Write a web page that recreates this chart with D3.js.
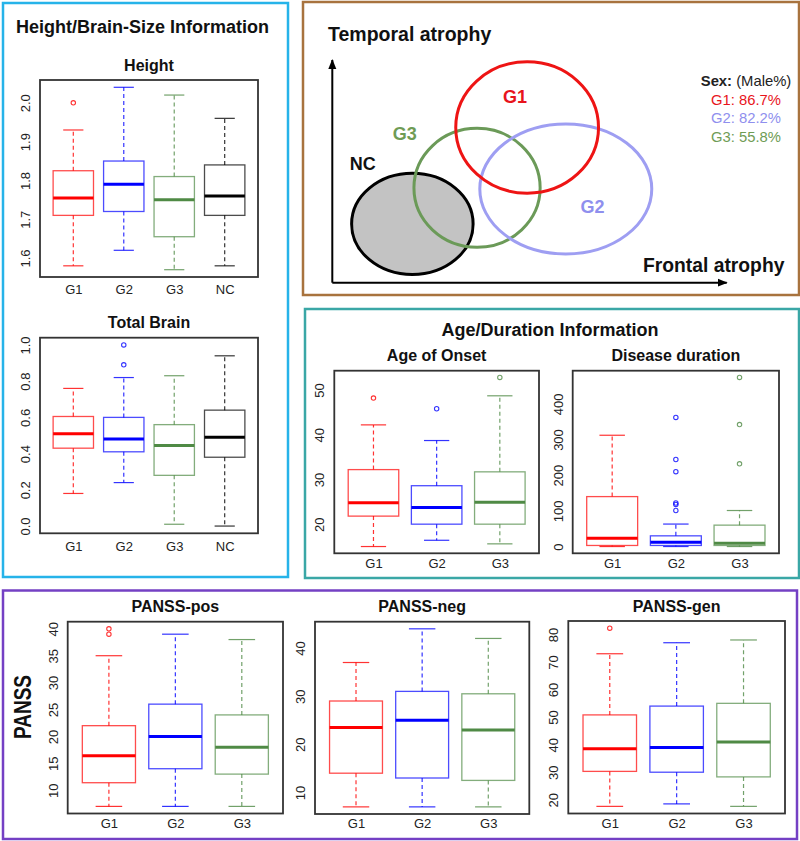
<!DOCTYPE html>
<html><head><meta charset="utf-8">
<script src="https://cdn.jsdelivr.net/npm/d3@7"></script>
<style>
body{margin:0;background:#fff;}
svg{display:block;}
text{font-family:"Liberation Sans",Arial,sans-serif;}
</style></head>
<body>
<svg id="fig" width="800" height="841"></svg>
<script>
// ---------------- DATA ----------------
const groups4 = ["G1","G2","G3","NC"];
const groups3 = ["G1","G2","G3"];
const groupColors = {G1:"#ff0000", G2:"#0000ff", G3:"#4f8a45", NC:"#000000"};

// box stats: [lower whisker, Q1, median, Q3, upper whisker]
const heightStats = [[1.58,1.71,1.755,1.825,1.93],[1.62,1.72,1.79,1.85,2.04],[1.57,1.655,1.75,1.81,2.02],[1.58,1.71,1.76,1.84,1.96]];
const heightOutliers = [[2.0],[],[],[]];
const heightTicks = [1.6,1.7,1.8,1.9,2.0];

const brainStats = [[0.18,0.43,0.51,0.605,0.76],[0.24,0.41,0.48,0.60,0.82],[0.01,0.28,0.445,0.56,0.83],[0.0,0.38,0.49,0.64,0.94]];
const brainOutliers = [[],[1.0,0.89],[],[]];
const brainTicks = [0,0.2,0.4,0.6,0.8,1.0];

const onsetStats = [[15,21.8,24.8,32.2,42.2],[16.4,20,23.7,28.6,38.7],[15.6,20,24.9,31.7,48.7]];
const onsetOutliers = [[48.2],[45.8],[52.8]];
const onsetTicks = [20,30,40,50];

const durationStats = [[0,3,23.5,140,312],[0,3,12,30,63],[0,3,9.5,60,101]];
const durationOutliers = [[],[362,244,210,122,118,101],[474,342,232]];
const durationTicks = [0,100,200,300,400];

const posStats = [[7,11.4,16.4,22,35],[7,14,20,26,39],[7,13,18,24,38]];
const posOutliers = [[40,39],[],[]];
const posTicks = [10,15,20,25,30,35,40];

const negStats = [[7,14,23.5,29,37],[7,13,25,31,44],[7,12.5,23,30.5,42]];
const negOutliers = [[],[],[]];
const negTicks = [10,20,30,40];

const genStats = [[17.6,30.3,38.5,50.8,73],[18.5,30,39,54,77],[17.6,28.3,41,55,78]];
const genOutliers = [[82.3],[],[]];
const genTicks = [20,30,40,50,60,70,80];

// Venn-like diagram (abstract units on Frontal / Temporal atrophy axes, 0-100)
const vennGroups = ["NC","G3","G2","G1"];
const vennCx = [20.3,36.7,59.2,49.4];
const vennCy = [26.4,42.6,42.1,69.7];
const vennRx = [15.4,16.0,21.8,18.1];
const vennRy = [22.7,26.7,29.2,29.5];
const vennLabelX = [7.7,18.4,66.0,46.3];
const vennLabelY = [53.3,67.2,34.0,83.5];

const sexGroups = ["G1","G2","G3"];
const sexMalePct = [86.7,82.2,55.8];

// ---------------- DRAW ----------------
const svg = d3.select("#fig");

// panel borders
const panels = [
  {x0:3,y0:3,x1:288,y1:577,c:"#26b3e9"},
  {x0:303,y0:2,x1:799,y1:295,c:"#a8733e"},
  {x0:305,y0:309,x1:799,y1:578,c:"#3aa7a6"},
  {x0:3,y0:590.5,x1:797,y1:839,c:"#7440c4"}
];
svg.selectAll("rect.panel").data(panels).join("rect").attr("class","panel")
  .attr("x",d=>d.x0).attr("y",d=>d.y0).attr("width",d=>d.x1-d.x0).attr("height",d=>d.y1-d.y0)
  .attr("fill","none").attr("stroke",d=>d.c).attr("stroke-width",2.5);

// section titles
svg.append("text").attr("x",16).attr("y",33).attr("font-size",18).attr("font-weight","bold")
  .attr("fill","#111").text("Height/Brain-Size Information");
svg.append("text").attr("x",550).attr("y",336).attr("text-anchor","middle").attr("font-size",18)
  .attr("font-weight","bold").attr("fill","#111").text("Age/Duration Information");
svg.append("text").attr("transform","translate(31,707) rotate(-90)").attr("text-anchor","middle")
  .attr("font-size",23).attr("font-weight","bold").attr("fill","#111")
  .attr("textLength",64).attr("lengthAdjust","spacingAndGlyphs").text("PANSS");

const charts = [
  {title:"Height", groups:groups4, stats:heightStats, outliers:heightOutliers, ticks:heightTicks, fmt:d3.format(".1f"), x0:40,x1:258,y0:80,y1:277, xpad:8},
  {title:"Total Brain", groups:groups4, stats:brainStats, outliers:brainOutliers, ticks:brainTicks, fmt:d3.format(".1f"), x0:40,x1:258,y0:337.7,y1:533.3, xpad:8},
  {title:"Age of Onset", groups:groups3, stats:onsetStats, outliers:onsetOutliers, ticks:onsetTicks, fmt:d3.format("d"), x0:334.3,x1:539,y0:370.7,y1:553.3, xpad:5},
  {title:"Disease duration", groups:groups3, stats:durationStats, outliers:durationOutliers, ticks:durationTicks, fmt:d3.format("d"), x0:572.7,x1:779,y0:370.7,y1:553.3, xpad:5},
  {title:"PANSS-pos", groups:groups3, stats:posStats, outliers:posOutliers, ticks:posTicks, fmt:d3.format("d"), x0:67.7,x1:283,y0:621.7,y1:813.5, xpad:5},
  {title:"PANSS-neg", groups:groups3, stats:negStats, outliers:negOutliers, ticks:negTicks, fmt:d3.format("d"), x0:315,x1:529.3,y0:621.7,y1:814, xpad:5},
  {title:"PANSS-gen", groups:groups3, stats:genStats, outliers:genOutliers, ticks:genTicks, fmt:d3.format("d"), x0:568.3,x1:785,y0:621,y1:813.5, xpad:5}
];

function boxChart(cfg){
  const g = svg.append("g");
  const n = cfg.groups.length;
  const x = d3.scalePoint().domain(cfg.groups).range([cfg.x0,cfg.x1]).padding(0.5+0.04*n);
  const all = cfg.stats.flat().concat(cfg.outliers.flat());
  const [lo,hi] = d3.extent(all); const pad=(hi-lo)*0.04;
  const y = d3.scaleLinear().domain([lo-pad,hi+pad]).range([cfg.y1,cfg.y0]);
  const bw = x.step()*0.8, sw = bw*0.5;
  cfg.groups.forEach((gn,i)=>{
    const s = cfg.stats[i], c = groupColors[gn], cx = x(gn);
    const bg = g.append("g");
    [[s[3],s[4]],[s[1],s[0]]].forEach(([a,b])=>{
      bg.append("line").attr("x1",cx).attr("x2",cx).attr("y1",y(a)).attr("y2",y(b))
        .attr("stroke",c).attr("stroke-width",1.2).attr("stroke-dasharray","4,3").attr("stroke-opacity",0.8);
      bg.append("line").attr("x1",cx-sw/2).attr("x2",cx+sw/2).attr("y1",y(b)).attr("y2",y(b))
        .attr("stroke",c).attr("stroke-width",1.2).attr("stroke-opacity",0.8);
    });
    bg.append("rect").attr("x",cx-bw/2).attr("width",bw).attr("y",y(s[3])).attr("height",y(s[1])-y(s[3]))
      .attr("fill","none").attr("stroke",c).attr("stroke-width",1.3).attr("stroke-opacity",0.7);
    bg.append("line").attr("x1",cx-bw/2).attr("x2",cx+bw/2).attr("y1",y(s[2])).attr("y2",y(s[2]))
      .attr("stroke",c).attr("stroke-width",3);
    bg.selectAll("circle").data(cfg.outliers[i]).join("circle")
      .attr("cx",cx).attr("cy",d=>y(d)).attr("r",2.2).attr("fill","none")
      .attr("stroke",c).attr("stroke-width",1.1).attr("stroke-opacity",0.8);
  });
  g.append("rect").attr("x",cfg.x0).attr("y",cfg.y0).attr("width",cfg.x1-cfg.x0).attr("height",cfg.y1-cfg.y0)
    .attr("fill","none").attr("stroke","#333").attr("stroke-width",1.8);
  const ya = g.append("g").attr("transform",`translate(${cfg.x0},0)`)
    .call(d3.axisLeft(y).tickValues(cfg.ticks).tickSize(0).tickFormat(cfg.fmt));
  ya.select(".domain").remove();
  ya.selectAll("text").attr("x",0).attr("dy",null).attr("text-anchor","middle")
    .attr("transform","translate(-10,0) rotate(-90)")
    .attr("font-size",13).attr("fill","#222").attr("font-family","Liberation Sans, Arial, sans-serif");
  const xa = g.append("g").attr("transform",`translate(0,${cfg.y1})`)
    .call(d3.axisBottom(x).tickSize(0).tickPadding(cfg.xpad));
  xa.select(".domain").remove();
  xa.selectAll("text").attr("font-size",13).attr("fill","#222").attr("font-family","Liberation Sans, Arial, sans-serif");
  g.append("text").attr("x",(cfg.x0+cfg.x1)/2).attr("y",cfg.y0-9.5).attr("text-anchor","middle")
    .attr("font-size",16).attr("font-weight","bold").attr("fill","#111").text(cfg.title);
}
charts.forEach(boxChart);

// ---------- Venn diagram ----------
const vx = d3.scaleLinear().domain([0,100]).range([332.3,726.7]);
const vy = d3.scaleLinear().domain([0,100]).range([282.7,60]);
const vennStroke = {NC:"#000000", G3:"#6b9a58", G2:"#9e9ef2", G1:"#ee1414"};
const vennLabelColor = {NC:"#111111", G3:"#6f9c55", G2:"#8f8fee", G1:"#e8141c"};
const vg = svg.append("g");
vennGroups.forEach((gn,i)=>{
  vg.append("ellipse").attr("cx",vx(vennCx[i])).attr("cy",vy(vennCy[i]))
    .attr("rx",vx(vennRx[i])-vx(0)).attr("ry",vy(0)-vy(vennRy[i]))
    .attr("fill",gn==="NC"?"#c3c3c3":"none").attr("stroke",vennStroke[gn]).attr("stroke-width",3);
});
vennGroups.forEach((gn,i)=>{
  vg.append("text").attr("x",vx(vennLabelX[i])).attr("y",vy(vennLabelY[i])).attr("dy","0.36em")
    .attr("text-anchor","middle").attr("font-family","Lato, sans-serif").attr("font-weight","bold")
    .attr("font-size",18).attr("fill",vennLabelColor[gn]).text(gn);
});
const defs = svg.append("defs");
defs.append("marker").attr("id","arr").attr("viewBox","0 0 10 10").attr("refX",9).attr("refY",5)
  .attr("markerWidth",5).attr("markerHeight",5).attr("orient","auto")
  .append("path").attr("d","M0,1 L10,5 L0,9 z").attr("fill","#000");
vg.append("line").attr("x1",vx(0)).attr("y1",vy(0)).attr("x2",vx(0)).attr("y2",vy(100))
  .attr("stroke","#000").attr("stroke-width",2).attr("marker-end","url(#arr)");
vg.append("line").attr("x1",vx(0)).attr("y1",vy(0)).attr("x2",vx(100)).attr("y2",vy(0))
  .attr("stroke","#000").attr("stroke-width",2).attr("marker-end","url(#arr)");
vg.append("text").attr("x",328).attr("y",41).attr("font-family","Lato, sans-serif").attr("font-weight","bold")
  .attr("font-size",19.5).attr("fill","#111").text("Temporal atrophy");
vg.append("text").attr("x",643).attr("y",272).attr("font-family","Lato, sans-serif").attr("font-weight","bold")
  .attr("font-size",19.3).attr("fill","#111").text("Frontal atrophy");
const lg = vg.append("text").attr("x",746).attr("y",86).attr("text-anchor","middle")
  .attr("font-family","DejaVu Sans, sans-serif").attr("font-size",14.8).attr("fill","#222");
lg.append("tspan").attr("font-weight","bold").text("Sex:");
lg.append("tspan").text(" (Male%)");
sexGroups.forEach((gn,i)=>{
  vg.append("text").attr("x",746).attr("y",104.5+i*18.6).attr("text-anchor","middle")
    .attr("font-family","DejaVu Sans, sans-serif").attr("font-size",14.8)
    .attr("fill",vennLabelColor[gn]).text(`${gn}: ${sexMalePct[i].toFixed(1)}%`);
});
</script>
</body></html>
